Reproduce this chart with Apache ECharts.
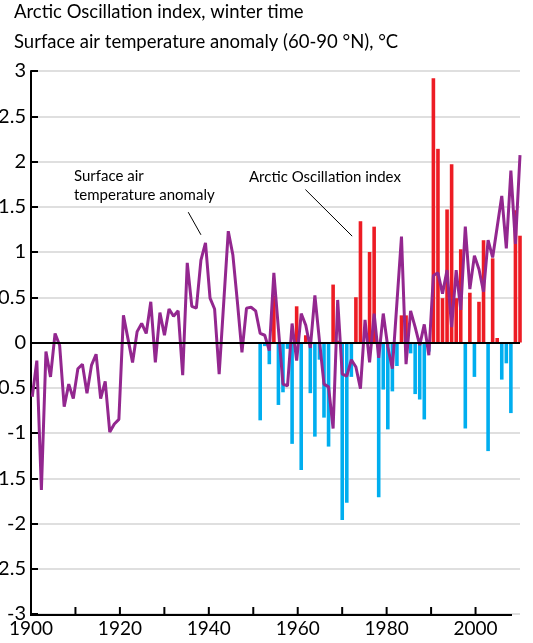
<!DOCTYPE html>
<html>
<head>
<meta charset="utf-8">
<script src="https://cdn.jsdelivr.net/npm/echarts@6/dist/echarts.min.js"></script>
<style>
html,body{margin:0;padding:0;background:#fff;}
#chart{width:533px;height:643px;}
</style>
</head>
<body>
<div id="chart"></div>
<script>
// ---- Data ----
const tempYears = [
  1901,1902,1903,1904,1905,1906,1907,1908,1909,1910,
  1911,1912,1913,1914,1915,1916,1917,1918,1919,1920,
  1921,1922,1923,1924,1925,1926,1927,1928,1929,1930,
  1931,1932,1933,1934,1935,1936,1937,1938,1939,1940,
  1941,1942,1943,1944,1945,1946,1947,1948,1949,1950,
  1951,1952,1953,1954,1955,1956,1957,1958,1959,1960,
  1961,1962,1963,1964,1965,1966,1967,1968,1969,1970,
  1971,1972,1973,1974,1975,1976,1977,1978,1979,1980,
  1981,1982,1983,1984,1985,1986,1987,1988,1989,1990,
  1991,1992,1993,1994,1995,1996,1997,1998,1999,2000,
  2001,2002,2003,2004,2005,2006,2007,2008
];
const tempAnomaly = [
  -0.60,-0.20,-1.63,-0.10,-0.38, 0.10,-0.03,-0.71,-0.46,-0.62,
  -0.29,-0.24,-0.56,-0.25,-0.13,-0.62,-0.43,-0.99,-0.90,-0.85,
   0.30, 0.04,-0.22, 0.12, 0.21, 0.10, 0.45,-0.22, 0.33, 0.08,
   0.37, 0.29, 0.35,-0.36, 0.88, 0.40, 0.38, 0.91, 1.10, 0.49,
   0.37,-0.35, 0.44, 1.23, 0.97, 0.45,-0.11, 0.38, 0.39, 0.35,
   0.10, 0.08,-0.09, 0.77, 0.15,-0.46,-0.48, 0.21,-0.20, 0.32,
   0.19,-0.06, 0.52, 0.02,-0.46,-0.49,-0.95, 0.47,-0.35,-0.37,
  -0.19,-0.27,-0.51, 0.25,-0.22, 0.32,-0.17, 0.32,-0.05,-0.29,
   0.44, 1.17,-0.24, 0.35, 0.17,-0.03, 0.20,-0.14, 0.74, 0.77,
   0.54, 0.80, 0.17, 0.80, 0.36, 1.28, 0.59, 0.96, 0.81, 0.56,
   1.13, 0.94, 1.28, 1.62, 1.04, 1.90, 1.09, 2.07
];
const aoYears = [
  1951,1952,1953,1954,1955,1956,1957,1958,1959,1960,
  1961,1962,1963,1964,1965,1966,1967,1968,1969,1970,
  1971,1972,1973,1974,1975,1976,1977,1978,1979,1980,
  1981,1982,1983,1984,1985,1986,1987,1988,1989,1990,
  1991,1992,1993,1994,1995,1996,1997,1998,1999,2000,
  2001,2002,2003,2004,2005,2006,2007,2008
];
const aoIndex = [
  -0.86,-0.04,-0.24, 0.52,-0.69,-0.55,-0.07,-1.12, 0.40,-1.41,
   0.08,-0.56,-1.04,-0.19,-0.83,-1.15, 0.64, 0.02,-1.96,-1.77,
  -0.38, 0.50, 1.34, 0.00, 1.00, 1.28,-1.71,-0.52,-0.96,-0.54,
  -0.26, 0.30, 0.30,-0.12,-0.57,-0.63,-0.85,-0.10, 2.92, 2.14,
   0.49, 1.47, 1.97, 0.49, 1.03,-0.95, 0.55,-0.38, 0.45, 1.13,
  -1.20, 0.93, 0.05,-0.41,-0.23,-0.78, 1.46, 1.18
];
const xTickYears = [1910,1920,1930,1940,1950,1960,1970,1980,1990,2000];
const xLabelYears = [1900,1920,1940,1960,1980,2000];
const yMin = -3, yMax = 3, yStep = 0.5;
const xAxisStartYear = 1900;
const xAxisEndYear = 2008.2;   // the drawn bottom axis stops short of the grid edge

const titleLine1 = 'Arctic Oscillation index, winter time';
const titleLine2 = 'Surface air temperature anomaly (60-90 °N), °C';
const noteTemp1 = 'Surface air';
const noteTemp2 = 'temperature anomaly';
const noteAO = 'Arctic Oscillation index';

// ---- Styles ----
const FONT = 'Lato';
const PURPLE = '#93278f';
const RED = '#ed1c24';
const BLUE = '#00aeef';
const TICK_LEN = 8;

const chart = echarts.init(document.getElementById('chart'), null, {renderer: 'canvas'});

const black = w => ({color: '#000', width: w, type: 'solid'});

const textGraphics = [
  {id: 't1', type: 'text', left: 14, top: 3, style: {text: titleLine1, font: '18.5px Lato', fill: '#000'}},
  {id: 't2', type: 'text', left: 14, top: 33, style: {text: titleLine2, font: '18.5px Lato', fill: '#000'}},
  {id: 'n1', type: 'text', left: 74, top: 169, style: {text: noteTemp1, font: '15px Lato', fill: '#000'}},
  {id: 'n2', type: 'text', left: 74, top: 188, style: {text: noteTemp2, font: '15px Lato', fill: '#000'}},
  {id: 'n3', type: 'text', left: 249, top: 170, style: {text: noteAO, font: '15px Lato', fill: '#000'}}
];

const option = {
  animation: false,
  backgroundColor: '#ffffff',
  grid: {left: 31, right: 13, top: 71, bottom: 29, containLabel: false, outerBoundsMode: 'none'},
  xAxis: [
    {
      type: 'value', min: 1900, max: 2010, interval: 10, position: 'bottom',
      axisLine: {show: false, onZero: false},
      axisTick: {show: false},
      axisLabel: {customValues: xLabelYears, fontSize: 19, color: '#000',
                  fontFamily: FONT, margin: 5, formatter: v => String(v)},
      splitLine: {show: false}
    },
    {
      // data scale of the plotted series (the original artwork's marks sit on this scale)
      type: 'value', min: 1900.72, max: 2008, show: false, position: 'top',
      axisLine: {onZero: false},
      splitLine: {show: false}
    }
  ],
  yAxis: {
    type: 'value', min: yMin, max: yMax, interval: yStep,
    axisLine: {show: true, lineStyle: {color: '#000', width: 2}},
    axisTick: {show: true, inside: true, length: 7, lineStyle: {color: '#000', width: 2}},
    axisLabel: {fontSize: 20, color: '#000', fontFamily: FONT, margin: 5},
    splitLine: {show: true, lineStyle: {color: '#d4d4d4', width: 1.5}}
  },
  graphic: textGraphics,
  series: [
    {
      name: 'Arctic Oscillation index',
      type: 'bar', xAxisIndex: 1,
      data: aoYears.map((y, i) => [y, aoIndex[i]]),
      barWidth: 3.6,
      itemStyle: {color: p => (p.value[1] >= 0 ? RED : BLUE)},
      z: 2
    },
    {
      name: 'notes',
      type: 'line', xAxisIndex: 0, data: [], clip: false, z: 5,
      markLine: {
        silent: true, symbol: 'none', label: {show: false},
        lineStyle: {type: 'solid'},
        data: [
          {yAxis: 0, lineStyle: black(2)},
          [{coord: [1935.37, 1.44], lineStyle: black(1)}, {coord: [1938.23, 1.19]}],
          [{coord: [1961.73, 1.69], lineStyle: black(1)}, {coord: [1972.25, 1.175]}]
        ]
      }
    },
    {
      name: 'Surface air temperature anomaly',
      type: 'line', xAxisIndex: 1,
      data: tempYears.map((y, i) => [y, tempAnomaly[i]]),
      symbol: 'none',
      lineStyle: {color: PURPLE, width: 3},
      z: 4
    }
  ]
};
chart.setOption(option);

// Bottom axis line and inward ticks, positioned through the visible x axis scale,
// drawn on their own layer so nothing can cover them.
try {
  const finder = {xAxisIndex: 0, yAxisIndex: 0};
  const a = chart.convertToPixel(finder, [xAxisStartYear, yMin]);
  const b = chart.convertToPixel(finder, [xAxisEndYear, yMin]);
  const axisGraphics = [];
  if (a && b) {
    const yb = a[1] + 1;
    axisGraphics.push({
      id: 'xaxis-line', type: 'line', zlevel: 1, z: 1000, silent: true,
      shape: {x1: a[0] - 1, y1: yb, x2: b[0], y2: yb},
      style: {stroke: '#000', lineWidth: 2}
    });
    xTickYears.forEach((yr, i) => {
      const p = chart.convertToPixel(finder, [yr, yMin]);
      axisGraphics.push({
        id: 'xtick-' + i, type: 'line', zlevel: 1, z: 1000, silent: true,
        shape: {x1: p[0], y1: yb, x2: p[0], y2: yb - TICK_LEN},
        style: {stroke: '#000', lineWidth: 2}
      });
    });
    chart.setOption({graphic: textGraphics.concat(axisGraphics)});
  }
} catch (e) { /* keep the chart as drawn */ }
</script>
</body>
</html>
